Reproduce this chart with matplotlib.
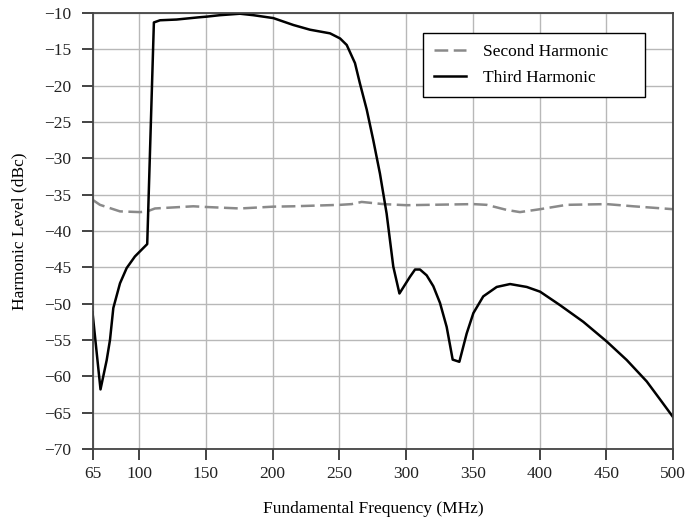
import matplotlib
matplotlib.use("Agg")
import matplotlib.pyplot as plt

# Second harmonic (dBc)
f2 = [65, 70.6, 85.6, 100.6, 106, 111.8, 140.5, 150.6, 175.5, 200.5, 215.5, 250.5,
      259.2, 266.7, 282.9, 300.4, 350.4, 360.4, 375.4, 385.3, 400.4, 420.3, 450.3,
      470.3, 500]
h2 = [-35.7, -36.4, -37.3, -37.4, -37.3, -36.9, -36.6, -36.7, -36.9, -36.65, -36.6,
      -36.4, -36.3, -36.0, -36.3, -36.45, -36.3, -36.4, -37.1, -37.4, -37.0, -36.4,
      -36.3, -36.6, -37.0]

# Third harmonic (dBc)
f3 = [65, 71, 75.6, 78.1, 80.6, 85.6, 90.6, 96.8, 106, 111, 115.6, 128, 144.3, 150.6,
      160.5, 175.5, 185.5, 200.5, 215.5, 228, 243, 250.5, 255.5, 261.7, 265.4, 270.5,
      275.4, 280.4, 285.4, 290.4, 295, 302.9, 306.7, 310.4, 315.4, 320.4, 325.4, 330.4,
      334.9, 339.9, 345.4, 350.4, 357.8, 367.9, 377.9, 390.4, 400.4, 415.3, 432.8,
      450.3, 465.3, 480.3, 490.8, 500]
h3 = [-51.2, -61.8, -57.8, -55.0, -50.6, -47.2, -45.1, -43.5, -41.8, -11.3, -11.0,
      -10.9, -10.6, -10.5, -10.3, -10.1, -10.3, -10.7, -11.65, -12.3, -12.8, -13.5,
      -14.4, -16.9, -19.7, -23.3, -27.5, -32.1, -37.6, -44.9, -48.6, -46.3, -45.3,
      -45.3, -46.1, -47.6, -49.9, -53.2, -57.7, -58.0, -54.1, -51.3, -49.0, -47.7,
      -47.3, -47.7, -48.35, -50.2, -52.5, -55.2, -57.75, -60.7, -63.3, -65.6]

xticks = [65, 100, 150, 200, 250, 300, 350, 400, 450, 500]
yticks = [-10, -15, -20, -25, -30, -35, -40, -45, -50, -55, -60, -65, -70]

plt.rcParams['font.family'] = ['Liberation Serif', 'DejaVu Serif']
plt.rcParams['axes.unicode_minus'] = True

FS = 12.5

fig = plt.figure(figsize=(6.85, 5.21), dpi=100)
ax = fig.add_axes([92.5 / 685, 1 - 449 / 521, (673 - 92.5) / 685, (449 - 13) / 521])

ax.plot(f2, h2, color='#8a8a8a', linestyle=(0, (5.5, 2.2)), linewidth=1.8,
        label='Second Harmonic')
ax.plot(f3, h3, color='black', linewidth=1.8, label='Third Harmonic')

ax.set_xlim(65, 500)
ax.set_ylim(-70, -10)
ax.set_xticks(xticks)
ax.set_yticks(yticks)
ax.set_xticklabels([str(t) for t in xticks])
ax.set_yticklabels(['\u2212' + str(-t) for t in yticks])
ax.tick_params(direction='out', length=8, width=1.2, labelsize=FS, colors='#222222')
ax.tick_params(axis='y', pad=7.5)
ax.tick_params(axis='x', pad=4)
ax.grid(True, color='#b8b8b8', linewidth=1.0)
ax.set_axisbelow(True)
for s in ax.spines.values():
    s.set_color('#444444')
    s.set_linewidth(1.3)

ax.set_xlabel('Fundamental Frequency (MHz)', fontsize=FS)
ax.xaxis.set_label_coords((373 - 92.5) / 580.5, (449 - 501) / 436)
ax.set_ylabel('Harmonic Level (dBc)', fontsize=FS, labelpad=12)

leg = ax.legend(loc='upper left',
                bbox_to_anchor=(423 / 685, 1 - 95 / 521, 222 / 685, 62 / 521),
                bbox_transform=fig.transFigure, mode='expand', fancybox=False,
                framealpha=1, edgecolor='black', fontsize=FS, handlelength=1.85,
                borderpad=0.65, labelspacing=0.55, handletextpad=0.95,
                borderaxespad=0)
leg.get_frame().set_linewidth(1.0)

fig.savefig('out.png', dpi=100)
